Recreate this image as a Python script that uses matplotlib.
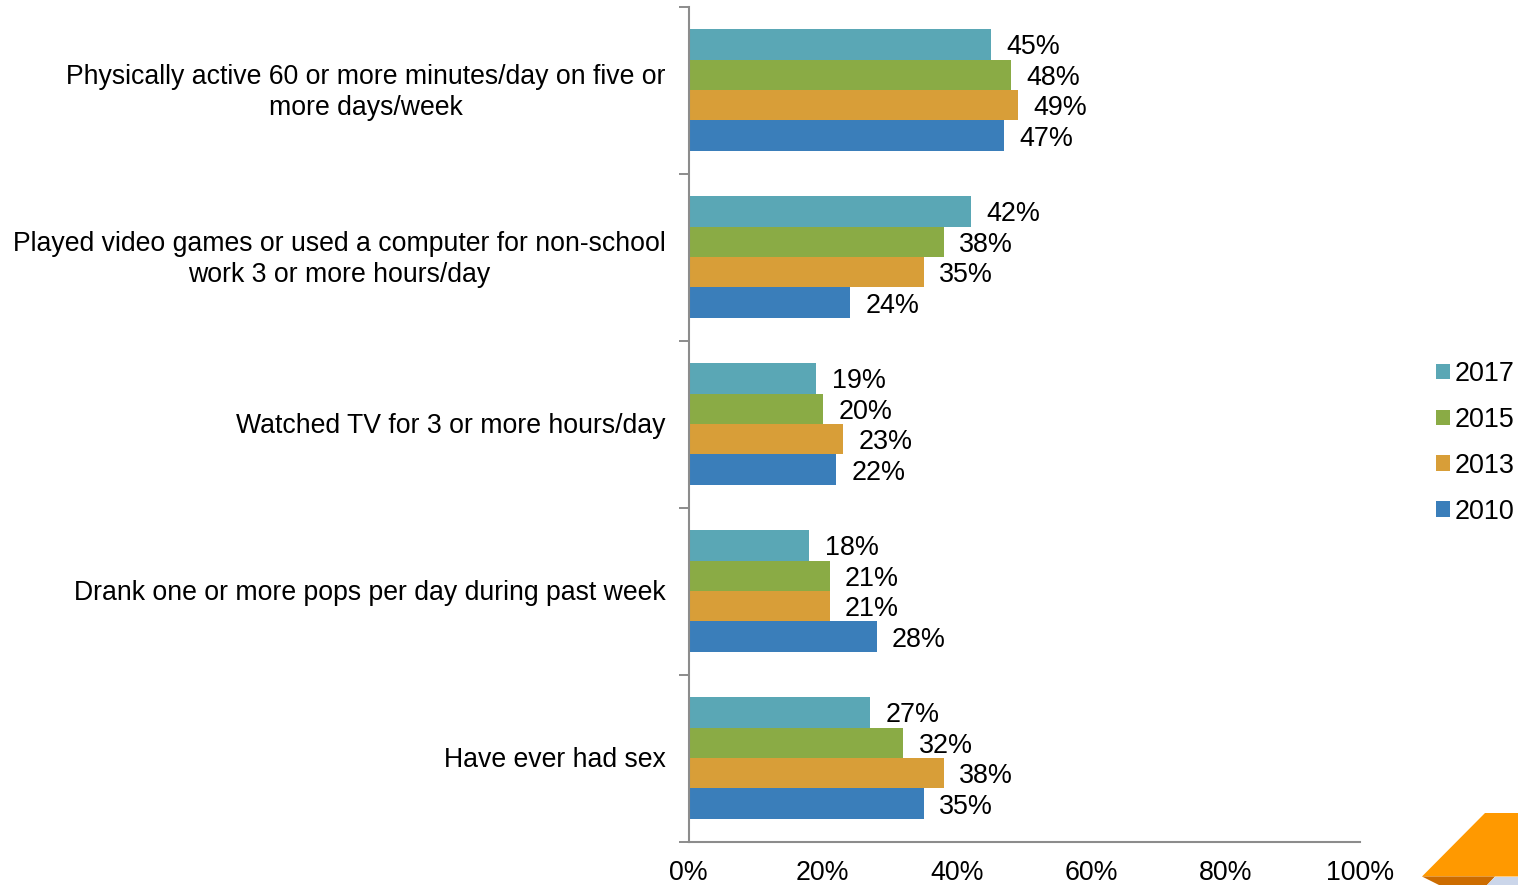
import numpy as np
import matplotlib
matplotlib.use("Agg")
import matplotlib.pyplot as plt
from matplotlib.patches import Polygon

plt.rcParams['font.family'] = ['Liberation Sans', 'DejaVu Sans']

categories = [
    "Physically active 60 or more minutes/day on five or\nmore days/week",
    "Played video games or used a computer for non-school\nwork 3 or more hours/day",
    "Watched TV for 3 or more hours/day",
    "Drank one or more pops per day during past week",
    "Have ever had sex",
]
years = ["2017", "2015", "2013", "2010"]
v2017 = [45, 42, 19, 18, 27]
v2015 = [48, 38, 20, 21, 32]
v2013 = [49, 35, 23, 21, 38]
v2010 = [47, 24, 22, 28, 35]
colors = ["#5AA7B5", "#8AAB45", "#D89E38", "#3A7EBA"]
xticks = [0, 20, 40, 60, 80, 100]

W, H = 1518, 885
fig = plt.figure(figsize=(W / 100, H / 100), dpi=100)
ax = fig.add_axes([688.5 / W, 1 - 841.5 / H, 671.5 / W, 835 / H])

series = [v2017, v2015, v2013, v2010]
y = np.arange(len(categories))
bar_h = 30.4 / 167
for i, vals in enumerate(series):
    pos = y + (i - 1.5) * bar_h
    ax.barh(pos, vals, height=bar_h, color=colors[i], label=years[i])
    for p, v in zip(pos, vals):
        ax.annotate(f"{v}%", (v, p), xytext=(15.5, -3), textcoords="offset pixels",
                    va="center", ha="left", fontsize=19.4, color="black")

ax.set_xlim(0, 100)
ax.set_ylim(4.5, -0.5)
ax.set_xticks(xticks)
ax.set_xticklabels([f"{t}%" for t in xticks], fontsize=19.3)
ax.tick_params(axis='x', length=0, pad=13.5)

# category ticks sit on the group boundaries
ax.set_yticks(np.arange(-0.5, 5, 1))
ax.set_yticklabels([])
ax.tick_params(axis='y', length=7, width=1.4, color="#8C8C8C", direction="out")
for name, txt in enumerate(categories):
    ax.text(-0.034, name + 0.012, txt, transform=ax.get_yaxis_transform(), ha="right",
            va="center", fontsize=19.15, multialignment="center", linespacing=1.25)

for s in ["top", "right"]:
    ax.spines[s].set_visible(False)
for s in ["left", "bottom"]:
    ax.spines[s].set_color("#8C8C8C")
    ax.spines[s].set_linewidth(1.5)

fig.legend(loc="upper left", bbox_to_anchor=(1436 / W, 1 - 361 / H), frameon=False,
           fontsize=19.4, handlelength=0.52, handleheight=0.52, handletextpad=0.17,
           labelspacing=0.74, borderpad=0, borderaxespad=0)

# orange page corner decoration
fig.add_artist(Polygon([(1422 / W, 1 - 876.5 / H), (1485 / W, 1 - 813 / H), (1518 / W, 1 - 813 / H),
                        (1518 / W, 1 - 876.5 / H)], transform=fig.transFigure, color="#FF9900", lw=0))
fig.add_artist(Polygon([(1422 / W, 1 - 876.5 / H), (1495 / W, 1 - 876.5 / H), (1487 / W, 1 - 885 / H),
                        (1439 / W, 1 - 885 / H)], transform=fig.transFigure, color="#CC6C00", lw=0))
fig.add_artist(Polygon([(1495 / W, 1 - 876.5 / H), (1518 / W, 1 - 876.5 / H), (1518 / W, 1 - 885 / H),
                        (1487 / W, 1 - 885 / H)], transform=fig.transFigure, color="#CBD6EA", lw=0))

fig.savefig("out.png", dpi=100)
